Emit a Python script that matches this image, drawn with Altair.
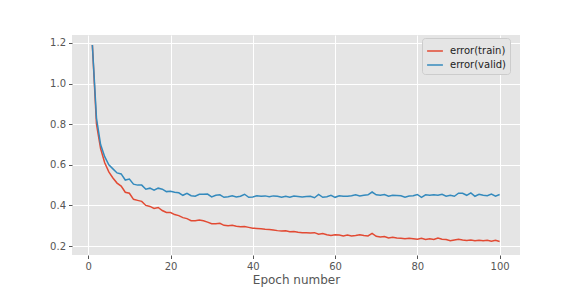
import altair as alt
import pandas as pd

epochs = list(range(1, 101))

train = [1.19, 0.80, 0.68, 0.61, 0.565, 0.535, 0.51, 0.495, 0.465, 0.46,
         0.43, 0.425, 0.42, 0.40, 0.395, 0.385, 0.39, 0.375, 0.365, 0.365,
         0.355, 0.35, 0.34, 0.335, 0.325, 0.325, 0.328, 0.325, 0.318, 0.31,
         0.31, 0.312, 0.302, 0.30, 0.302, 0.298, 0.295, 0.296, 0.292, 0.288,
         0.287, 0.285, 0.283, 0.282, 0.279, 0.276, 0.274, 0.275, 0.27, 0.272,
         0.268, 0.265, 0.266, 0.264, 0.266, 0.258, 0.262, 0.256, 0.252, 0.256,
         0.254, 0.25, 0.254, 0.25, 0.252, 0.256, 0.252, 0.25, 0.262, 0.248,
         0.245, 0.247, 0.24, 0.243, 0.24, 0.238, 0.236, 0.238, 0.236, 0.234,
         0.238, 0.232, 0.236, 0.232, 0.24, 0.234, 0.232, 0.226, 0.23, 0.234,
         0.23, 0.228, 0.23, 0.226, 0.228, 0.226, 0.228, 0.224, 0.228, 0.222]

valid = [1.19, 0.83, 0.70, 0.64, 0.60, 0.58, 0.56, 0.555, 0.525, 0.53,
         0.505, 0.50, 0.50, 0.48, 0.485, 0.475, 0.485, 0.48, 0.468, 0.47,
         0.465, 0.462, 0.45, 0.46, 0.448, 0.445, 0.455, 0.455, 0.456, 0.442,
         0.45, 0.452, 0.44, 0.443, 0.448, 0.442, 0.445, 0.455, 0.44, 0.442,
         0.448, 0.445, 0.447, 0.443, 0.447, 0.445, 0.44, 0.445, 0.44, 0.446,
         0.444, 0.442, 0.444, 0.445, 0.438, 0.454, 0.44, 0.443, 0.45, 0.44,
         0.448, 0.445, 0.445, 0.448, 0.452, 0.447, 0.45, 0.452, 0.466, 0.452,
         0.45, 0.454, 0.445, 0.45, 0.449, 0.448, 0.44, 0.446, 0.448, 0.454,
         0.44, 0.452, 0.45, 0.452, 0.45, 0.455, 0.445, 0.45, 0.445, 0.46,
         0.46, 0.45, 0.462, 0.445, 0.455, 0.45, 0.448, 0.456, 0.446, 0.454]

series_names = ["error(train)", "error(valid)"]
series_colors = ["#E24A33", "#348ABD"]
x_ticks = [0, 20, 40, 60, 80, 100]
y_ticks = [0.2, 0.4, 0.6, 0.8, 1.0, 1.2]

df = pd.concat([
    pd.DataFrame({"epoch": epochs, "value": train, "series": series_names[0]}),
    pd.DataFrame({"epoch": epochs, "value": valid, "series": series_names[1]}),
])

chart = alt.Chart(df).mark_line(strokeWidth=1.5).encode(
    x=alt.X("epoch:Q",
            scale=alt.Scale(domain=[-3.95, 104.95], nice=False, zero=False),
            axis=alt.Axis(values=x_ticks, title="Epoch number", format="d")),
    y=alt.Y("value:Q",
            scale=alt.Scale(domain=[0.156, 1.239], nice=False, zero=False),
            axis=alt.Axis(values=y_ticks, title=None, format=".1f")),
    color=alt.Color("series:N",
                    scale=alt.Scale(domain=series_names, range=series_colors),
                    legend=alt.Legend(title=None, orient="none", legendX=350, legendY=3,
                                      symbolType="stroke", symbolStrokeWidth=1.5,
                                      symbolSize=250,
                                      labelFontSize=10, labelColor="#222",
                                      labelFont="DejaVu Sans", labelOffset=6,
                                      fillColor="#E5E5E5", strokeColor="#CCCCCC",
                                      padding=4, cornerRadius=3, rowPadding=0)),
).properties(
    width=448, height=220,
    autosize=alt.AutoSizeParams(type="none"),
    padding={"left": 64, "top": 27, "right": 48, "bottom": 33},
).configure_view(
    fill="#E5E5E5", stroke=None
).configure_axis(
    grid=True, gridColor="#FFFFFF", gridWidth=1, domain=False,
    tickColor="#555555", tickSize=3.5, labelColor="#555555",
    labelFont="DejaVu Sans", labelFontSize=10, labelPadding=3,
    titleFont="DejaVu Sans", titleFontSize=12, titleColor="#555555",
    titleFontWeight="normal", titlePadding=3,
)

chart.save("out.html", embed_options={"renderer": "svg", "actions": False})
